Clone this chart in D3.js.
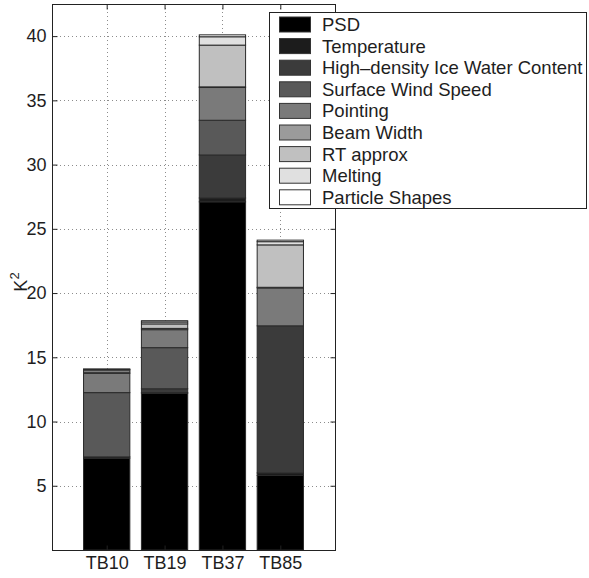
<!DOCTYPE html>
<html>
<head>
<meta charset="utf-8">
<script src="https://cdn.jsdelivr.net/npm/d3@7/dist/d3.min.js"></script>
<style>
body{margin:0;background:#fff;}
svg{display:block;font-family:"Liberation Sans",Arial,Helvetica,sans-serif;}
</style>
</head>
<body>
<script>
const categories = ["TB10","TB19","TB37","TB85"];
const seriesNames = ["PSD","Temperature","High\u2013density Ice Water Content","Surface Wind Speed","Pointing","Beam Width","RT approx","Melting","Particle Shapes"];
const seriesColors = ["#000000","#1c1c1c","#3b3b3b","#595959","#7a7a7a","#9b9b9b","#c0c0c0","#e0e0e0","#ffffff"];
const PSD         = [7.15, 12.2, 27.1, 5.8];
const Temperature = [0.1, 0.05, 0.3, 0.2];
const HDIWC       = [0.0, 0.3, 3.35, 11.45];
const SurfaceWind = [5.0, 3.2, 2.7, 0.0];
const Pointing    = [1.5, 1.4, 2.55, 2.95];
const BeamWidth   = [0.1, 0.1, 0.05, 0.05];
const RTapprox    = [0.15, 0.35, 3.25, 3.3];
const Melting     = [0.05, 0.15, 0.65, 0.25];
const Particle    = [0.05, 0.1, 0.15, 0.12];
const seriesValues = [PSD, Temperature, HDIWC, SurfaceWind, Pointing, BeamWidth, RTapprox, Melting, Particle];
const yTicks = [5,10,15,20,25,30,35,40];

const W = 589, H = 578;
const L = 52, R = 335, T = 4, B = 550;
const FONT = "Liberation Sans, Arial, sans-serif";
const TXT = "#1e1e1e";
const svg = d3.select("body").append("svg").attr("width", W).attr("height", H);

const x = d3.scaleLinear().domain([0.055, 4.945]).range([L, R]);
const y = d3.scaleLinear().domain([0, 42.5]).range([B, T]);
const barW = x(0.8) - x(0);

// grid
const grid = svg.append("g").attr("stroke", "#8c8c8c").attr("stroke-width", 1).attr("stroke-dasharray", "1,3");
yTicks.forEach(v => grid.append("line").attr("x1", L).attr("x2", R).attr("y1", Math.round(y(v)) + 0.5).attr("y2", Math.round(y(v)) + 0.5));
categories.forEach((c, i) => grid.append("line").attr("x1", Math.round(x(i + 1)) + 0.5).attr("x2", Math.round(x(i + 1)) + 0.5).attr("y1", T).attr("y2", B));

// stacked bars
const rows = categories.map((c, i) => { const o = {cat: c, idx: i}; seriesNames.forEach((s, k) => o[s] = seriesValues[k][i]); return o; });
const stack = d3.stack().keys(seriesNames)(rows);
stack.forEach((layer, k) => {
  svg.append("g").selectAll("rect").data(layer).join("rect")
    .attr("x", (d, i) => x(i + 1) - barW / 2)
    .attr("width", barW)
    .attr("y", d => y(d[1]))
    .attr("height", d => Math.max(0, y(d[0]) - y(d[1])))
    .attr("fill", seriesColors[k])
    .attr("stroke", "#2a2a2a").attr("stroke-width", 1);
});

// axes box
svg.append("rect").attr("x", L + 0.5).attr("y", T + 0.5).attr("width", R - L).attr("height", B - T)
  .attr("fill", "none").attr("stroke", "#222").attr("stroke-width", 1);

// y ticks (both sides, inside)
const yAxisL = d3.axisLeft(y).tickValues(yTicks).tickSizeInner(-5).tickSizeOuter(0).tickPadding(6);
const gL = svg.append("g").attr("transform", `translate(${L + 0.5},0)`).call(yAxisL);
gL.select(".domain").remove();
gL.selectAll("text").attr("font-size", 18).attr("fill", TXT).attr("font-family", FONT);
gL.selectAll("line").attr("stroke", "#222");
const yAxisR = d3.axisRight(y).tickValues(yTicks).tickSizeInner(-5).tickSizeOuter(0).tickFormat("");
const gR = svg.append("g").attr("transform", `translate(${R + 0.5},0)`).call(yAxisR);
gR.select(".domain").remove();
gR.selectAll("line").attr("stroke", "#222");

// x ticks
const xAxisB = d3.axisBottom(x).tickValues([1,2,3,4]).tickFormat(d => categories[d - 1]).tickSizeInner(-5).tickSizeOuter(0).tickPadding(6);
const gB = svg.append("g").attr("transform", `translate(0,${B + 0.5})`).call(xAxisB);
gB.select(".domain").remove();
gB.selectAll("text").attr("font-size", 18).attr("fill", TXT).attr("font-family", FONT);
gB.selectAll("line").attr("stroke", "#222");
const xAxisT = d3.axisTop(x).tickValues([1,2,3,4]).tickFormat("").tickSizeInner(-5).tickSizeOuter(0);
const gT = svg.append("g").attr("transform", `translate(0,${T + 0.5})`).call(xAxisT);
gT.select(".domain").remove();
gT.selectAll("line").attr("stroke", "#222");

// y label K^2
const yl = svg.append("text").attr("transform", "translate(27,282) rotate(-90)")
  .attr("text-anchor", "middle").attr("font-size", 18).attr("fill", TXT);
yl.append("tspan").text("K");
yl.append("tspan").attr("font-size", 13).attr("dy", -8).text("2");

// legend
const lg = svg.append("g");
lg.append("rect").attr("x", 269.5).attr("y", 12.5).attr("width", 317).attr("height", 196)
  .attr("fill", "#fff").attr("stroke", "#222").attr("stroke-width", 1);
seriesNames.forEach((s, k) => {
  const cy = 24.5 + k * 21.6;
  lg.append("rect").attr("x", 279.5).attr("y", cy - 7.5).attr("width", 31).attr("height", 15)
    .attr("fill", seriesColors[k]).attr("stroke", "#333").attr("stroke-width", 1);
  lg.append("text").attr("x", 322).attr("y", cy).attr("dy", "0.35em")
    .attr("font-size", 18.5).attr("fill", TXT).text(s);
});
</script>
</body>
</html>
